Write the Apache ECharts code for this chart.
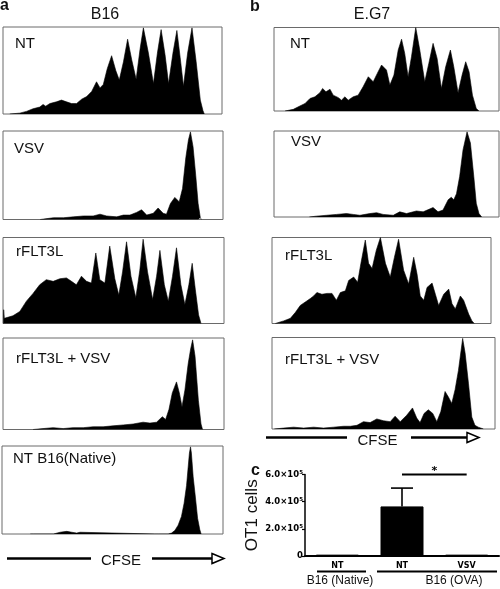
<!DOCTYPE html>
<html><head><meta charset="utf-8">
<script src="https://cdn.jsdelivr.net/npm/echarts/dist/echarts.min.js"></script>
<style>html,body{margin:0;padding:0;background:#fff}#c{width:500px;height:589px}</style>
</head><body><div id="c"></div><script>
// ---- Histogram data: [CFSE position (% of panel width), count (% of panel height)] ----
const histB16_NT = [[3.1,0],[7.6,1],[10.7,3],[13.7,6],[16.8,8],[18.3,11],[19.5,9],[21.4,12],[24.4,14],[26.7,16],[29,14],[31.3,12],[33.6,12],[35.9,17],[38.2,20],[40.5,26],[42.7,37],[44.3,30],[45.8,34],[47.6,52],[49.6,67],[51.5,50],[53.1,39],[55,60],[56.9,86],[58.8,62],[60.8,40],[62.6,75],[64.1,99],[66.4,70],[68.7,35],[70.5,70],[72.2,97],[74,68],[75.6,35],[77.6,70],[79.4,96],[80.9,65],[82.4,32],[84.3,70],[86.3,99],[88.2,60],[90.1,16],[91.3,4],[91.9,0]];
const histB16_VSV = [[16.9,0],[17.2,1],[20,1],[23,2],[27.5,2],[32,3],[36.6,4],[41,4],[44.1,6],[47.1,4],[51.7,3],[54.7,5],[57.7,5],[60.7,8],[63,11],[65.3,5],[68.3,7],[70.5,13],[72.8,7],[74.3,6],[76.1,18],[78.1,25],[80.1,20],[81.6,35],[83.1,70],[84.3,90],[85.2,99],[86.4,82],[87.6,50],[88.7,18],[89.7,2],[90.2,0]];
const histB16_FLT = [[0.2,0],[0.3,16],[0.6,6],[1.5,7],[4.5,9],[7.6,14],[10.6,26],[13.6,35],[16.6,45],[19.6,51],[22.7,49],[25.7,52],[28.7,53],[31,49],[33.2,45],[35.5,55],[37.8,49],[40,47],[42,82],[43.8,51],[46.1,47],[48.3,90],[50.6,52],[52.4,33],[54.1,60],[55.9,95],[57.9,55],[60.1,30],[61.9,62],[63.4,98],[65.4,60],[67.7,28],[69.5,55],[71,85],[73,45],[74.8,26],[76.7,55],[78.5,88],[80.5,45],[82.3,22],[84.1,45],[85.6,70],[87,40],[88.5,10],[89.6,0]];
const histB16_FLTVSV = [[13.6,0],[13.8,1],[18.1,1],[22.7,2],[27.2,1],[31.7,2],[36.3,2],[40.8,3],[45.3,3],[49.8,4],[54.4,5],[58.9,6],[63.4,8],[66.5,7],[69.5,8],[72.1,14],[73.6,11],[75.1,22],[76.6,40],[78.5,52],[79.8,40],[81,25],[82.3,43],[83.8,72],[84.9,88],[85.8,98],[86.9,80],[88.4,32],[89.6,6],[90.3,0]];
const histB16_Native = [[12.8,0],[13.5,1],[14.3,0],[23.3,0],[24,2],[26.3,2],[29.3,3],[31.6,2],[33.8,1],[35.3,2],[36.1,0],[69.2,0],[69.9,1],[70.7,0],[75.2,0],[76.7,1],[78.2,4],[79.7,10],[81.2,20],[82.4,35],[83.5,55],[84.2,75],[84.8,92],[85.3,99],[85.7,92],[86.5,65],[87.5,42],[88.5,18],[89.5,5],[90.1,0]];
const histEG7_NT = [[4.9,0],[8.6,2],[11.5,6],[13.8,9],[16,15],[18.2,17],[20.4,22],[21.6,27],[23.1,23],[24.9,26],[26.3,19],[28.6,16],[30,13],[31.5,17],[33,13],[35.2,17],[37.4,19],[39.6,29],[41.9,41],[44.1,35],[45.9,45],[47.8,55],[50,49],[51.5,31],[53.3,43],[55.2,73],[56.7,86],[58.1,69],[59.6,41],[61.1,65],[63,100],[64.8,73],[67,35],[68.8,57],[70.7,81],[72.5,63],[74.4,27],[76.3,53],[78.4,73],[79.9,53],[81.8,22],[83.6,43],[85.2,59],[86.7,47],[88.2,19],[89.9,3],[91.1,0]];
const histEG7_VSV = [[15.7,0],[16,1],[18.9,1],[23.4,2],[27.8,3],[32.2,4],[35.2,3],[38.2,2],[42.6,4],[45.6,5],[48.5,3],[53,2],[55.9,6],[58.9,4],[63.3,7],[66.3,6],[70.7,11],[72.9,6],[75.1,8],[77.4,20],[78.8,23],[79.9,20],[81.1,27],[82.5,47],[84,78],[85.8,99],[87.3,86],[88.8,47],[89.9,16],[91.1,4],[92.3,0]];
const histEG7_FLT = [[1.5,0],[2.3,1],[5.3,3],[8.4,6],[10.7,13],[12.9,21],[15.2,25],[17.5,29],[19,32],[20.5,36],[22.8,34],[25.1,35],[27.4,35],[29.4,27],[31.2,36],[33.5,38],[35,50],[37.3,54],[39.1,48],[40.6,70],[42.6,97],[44.1,70],[45.7,64],[47.6,85],[49.5,100],[51.8,70],[54,54],[55.9,77],[57.8,98],[60.1,62],[62.4,46],[64.7,77],[66.2,58],[67.7,32],[69.3,27],[70.8,42],[73.1,47],[74.6,34],[76.1,21],[78.4,34],[80.7,40],[82.2,23],[83.7,17],[86,32],[87.5,27],[89.8,11],[91.3,3],[92.4,0]];
const histEG7_FLTVSV = [[1,0],[1.5,1],[5.2,1],[9.7,2],[14.2,1],[18.7,2],[23.1,1],[27.6,2],[32.1,3],[35.1,3],[38.1,4],[41,8],[44,7],[47,11],[50,9],[53,8],[55.2,14],[57.5,8],[60.4,15],[63,23],[64.9,12],[66.4,7],[68.2,17],[70.1,21],[72.1,17],[73.9,8],[75.7,19],[77.6,41],[79.1,35],[80.6,28],[82.1,43],[83.6,64],[84.8,86],[85.5,99],[86.6,83],[88.1,50],[89.6,13],[91,4],[92.5,2],[94.8,0]];

const histLabels = ['NT','VSV','rFLT3L','rFLT3L + VSV','NT B16(Native)','NT','VSV','rFLT3L','rFLT3L + VSV'];
const histData = [histB16_NT, histB16_VSV, histB16_FLT, histB16_FLTVSV, histB16_Native, histEG7_NT, histEG7_VSV, histEG7_FLT, histEG7_FLTVSV];

// ---- Panel c data ----
const barCategories = ['NT','NT','VSV'];
const barValues = [10000, 365000, 10000];
const barErrorHigh = [null, 500000, null];
const groupLabels = ['B16 (Native)','B16 (OVA)'];
const sigPair = [1, 2];
const sigLevel = 600000;

// ---- Layout (positions only) ----
const histBoxes = [
  {left:3, top:27, width:219, height:87, lx:15, ly:44},
  {left:3, top:131, width:220, height:88.5, lx:14, ly:149},
  {left:3, top:237.5, width:221, height:86, lx:16, ly:252},
  {left:3, top:338, width:221, height:91.5, lx:16, ly:359},
  {left:2, top:446, width:221, height:88, lx:13, ly:459},
  {left:274, top:27.5, width:225, height:83.5, lx:290, ly:44},
  {left:274, top:131, width:225, height:86, lx:291, ly:142},
  {left:272, top:237.5, width:219, height:86, lx:285, ly:255.5},
  {left:272, top:337.5, width:223, height:91.5, lx:285, ly:359.5}
];
const cGrid = {left:305, top:474.5, width:194, height:81.5};
const FONT = 'Liberation Sans, Arial, sans-serif';

const grids = [], xAxes = [], yAxes = [], series = [], graphics = [];
histBoxes.forEach((b, i) => {
  grids.push({left:b.left, top:b.top, width:b.width, height:b.height, show:true, borderColor:'#6a6a6a', borderWidth:1, backgroundColor:'transparent'});
  xAxes.push({type:'value', gridIndex:i, min:0, max:100, show:false});
  yAxes.push({type:'value', gridIndex:i, min:0, max:100, show:false});
  series.push({type:'line', xAxisIndex:i, yAxisIndex:i, data:histData[i], symbol:'none', silent:true,
    lineStyle:{color:'#000', width:0.6}, areaStyle:{color:'#000', opacity:1}, animation:false});
  graphics.push({type:'text', x:b.lx, y:b.ly, style:{text:histLabels[i], fill:'#111', font:'15px '+FONT, textVerticalAlign:'middle', verticalAlign:'middle'}});
});

const ci = histBoxes.length;
grids.push({left:cGrid.left, top:cGrid.top, width:cGrid.width, height:cGrid.height, show:false});
xAxes.push({type:'category', gridIndex:ci, data:barCategories,
  axisLine:{lineStyle:{color:'#000', width:2}}, axisTick:{show:false},
  axisLabel:{color:'#000', fontFamily:'DejaVu Sans', fontWeight:'bold', fontSize:8, margin:6}});
yAxes.push({type:'value', gridIndex:ci, min:0, max:600000, interval:200000,
  name:'OT1 cells', nameLocation:'middle', nameGap:38,
  nameTextStyle:{fontFamily:FONT, fontSize:17, color:'#111'},
  axisLine:{show:true, lineStyle:{color:'#000', width:1.5}},
  axisTick:{show:true, length:3, lineStyle:{color:'#000', width:1.2}},
  splitLine:{show:false},
  axisLabel:{margin:2, formatter: v => v === 0 ? '{b|0}' : '{b|' + (v/1e5).toFixed(1) + '×10}{s|5}',
    rich:{b:{fontFamily:'DejaVu Sans', fontWeight:'bold', fontSize:8.5, color:'#000', lineHeight:10},
          s:{fontFamily:'DejaVu Sans', fontWeight:'bold', fontSize:5.5, color:'#000', verticalAlign:'top', lineHeight:10}}}});
series.push({type:'bar', xAxisIndex:ci, yAxisIndex:ci, data:barValues, barWidth:43,
  itemStyle:{color:'#000', borderColor:'#000', borderWidth:1}, animation:false});
series.push({type:'custom', xAxisIndex:ci, yAxisIndex:ci, animation:false, clip:false,
  data: barValues.map((v, k) => [k, v, barErrorHigh[k]]).filter(d => d[2] != null),
  encode:{x:0, y:[1,2]},
  renderItem:(params, api) => {
    const p0 = api.coord([api.value(0), api.value(1)]);
    const p1 = api.coord([api.value(0), api.value(2)]);
    const half = 11;
    return {type:'group', children:[
      {type:'line', shape:{x1:p0[0], y1:p0[1], x2:p1[0], y2:p1[1]}, style:{stroke:'#000', lineWidth:1.6}},
      {type:'line', shape:{x1:p1[0]-half, y1:p1[1], x2:p1[0]+half, y2:p1[1]}, style:{stroke:'#000', lineWidth:1.6}}
    ]};
  }});
series.push({type:'custom', xAxisIndex:ci, yAxisIndex:ci, animation:false, clip:false,
  data:[[sigPair[0], sigPair[1], sigLevel]], encode:{x:[0,1], y:2},
  renderItem:(params, api) => {
    const a = api.coord([api.value(0), api.value(2)]);
    const b = api.coord([api.value(1), api.value(2)]);
    return {type:'group', children:[
      {type:'line', shape:{x1:a[0], y1:a[1], x2:b[0], y2:b[1]}, style:{stroke:'#000', lineWidth:2}},
      {type:'text', x:(a[0]+b[0])/2, y:a[1]-3, style:{text:'*', fill:'#000', font:'bold 11px DejaVu Sans', textAlign:'center', textVerticalAlign:'middle', align:'center', verticalAlign:'middle'}}
    ]};
  }});

// titles & panel letters
function txt(x, y, t, font, align) {
  return {type:'text', x:x, y:y, style:{text:t, fill:'#111', font:font, textAlign:align||'left', align:align||'left', textVerticalAlign:'middle', verticalAlign:'middle'}};
}
graphics.push(txt(0, 6, 'a', 'bold 16px '+FONT));
graphics.push(txt(250, 7, 'b', 'bold 16px '+FONT));
graphics.push(txt(251, 471, 'c', 'bold 16px '+FONT));
graphics.push(txt(105, 14.5, 'B16', '16px '+FONT, 'center'));
graphics.push(txt(372, 14.5, 'E.G7', '16px '+FONT, 'center'));

// CFSE arrows
function arrow(x0, x1, tx, x2, x3, y, ty) {
  return [
    {type:'line', shape:{x1:x0, y1:y, x2:x1, y2:y}, style:{stroke:'#000', lineWidth:2.5}},
    txt(tx, ty, 'CFSE', '15px '+FONT, 'center'),
    {type:'line', shape:{x1:x2, y1:y, x2:x3-12, y2:y}, style:{stroke:'#000', lineWidth:2.5}},
    {type:'polygon', shape:{points:[[x3-12, y-5],[x3, y],[x3-12, y+5]]}, style:{fill:'#fff', stroke:'#000', lineWidth:1.5}}
  ];
}
graphics.push(...arrow(7, 91, 121, 152, 224, 558.5, 561));
graphics.push(...arrow(266, 347, 377.5, 411, 479, 437.5, 441));

// group lines for panel c
graphics.push({type:'line', shape:{x1:317, y1:571.5, x2:366, y2:571.5}, style:{stroke:'#000', lineWidth:2}});
graphics.push({type:'line', shape:{x1:377, y1:571.5, x2:497, y2:571.5}, style:{stroke:'#000', lineWidth:2}});
graphics.push(txt(340, 580.5, groupLabels[0], '12px '+FONT, 'center'));
graphics.push(txt(454, 580.5, groupLabels[1], '12px '+FONT, 'center'));

const chart = echarts.init(document.getElementById('c'), null, {renderer:'canvas'});
chart.setOption({animation:false, grid:grids, xAxis:xAxes, yAxis:yAxes, series:series, graphic:graphics});
</script></body></html>
